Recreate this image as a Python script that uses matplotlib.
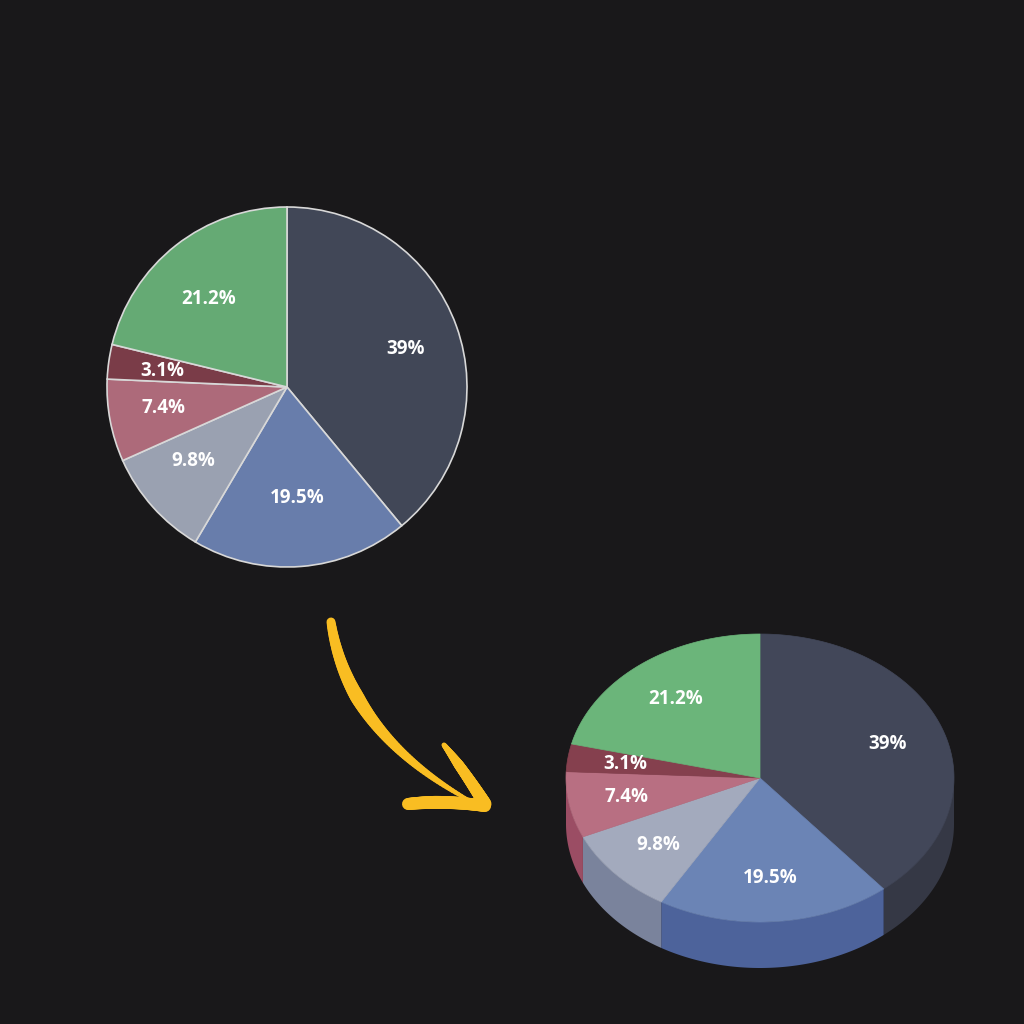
import numpy as np
import matplotlib
matplotlib.use("Agg")
import matplotlib.pyplot as plt
from matplotlib.patches import Polygon
from matplotlib.collections import LineCollection

# slice data, clockwise from 12 o'clock
values = [39, 19.5, 9.8, 7.4, 3.1, 21.2]
labels = ["39%", "19.5%", "9.8%", "7.4%", "3.1%", "21.2%"]
flat_colors = ["#414757", "#687dab", "#9aa1b1", "#ad6a7a", "#7a3c48", "#65aa74"]
top_colors = ["#424759", "#6b84b5", "#a3aabd", "#b86f82", "#85404e", "#6bb57a"]
side_colors = ["#353845", "#4d639b", "#7a839c", "#9b4d64", "#6e3340", "#4f8a5b"]

bg = "#19181a"
W = 1024

fig = plt.figure(figsize=(10.24, 10.24), dpi=100, facecolor=bg)
ax = fig.add_axes([0, 0, 1, 1])
ax.set_facecolor(bg)

font = dict(color="white", fontsize=13.5, fontweight="bold", family=["Open Sans", "DejaVu Sans"])

# flat pie
fx, fy, fr = 287, W - 387, 180
wedges, _ = ax.pie(values, colors=flat_colors, startangle=90, counterclock=False,
                   center=(fx, fy), radius=fr, frame=True,
                   wedgeprops=dict(edgecolor="#d8d8d8", linewidth=1.2))
for w, lab in zip(wedges, labels):
    mid = np.radians((w.theta1 + w.theta2) / 2)
    ax.text(fx + 0.7 * fr * np.cos(mid), fy + 0.62 * fr * np.sin(mid), lab,
            ha="center", va="center", **font)

ax.set_xlim(0, W)
ax.set_ylim(0, W)
ax.set_aspect("equal")
ax.axis("off")

# 3d pie
cx, cy, rx, ry, depth = 760, W - 778, 194, 144, 46
bounds = 90 - 360 * np.concatenate([[0], np.cumsum(values)]) / sum(values)


def arc(a0, a1, n=120):
    t = np.radians(np.linspace(a0, a1, n))
    return np.column_stack([cx + rx * np.cos(t), cy + ry * np.sin(t)])


# side walls on the front half (180..360 deg)
for i in range(len(values)):
    a1, a0 = bounds[i], bounds[i + 1]  # a0 < a1
    for k in (-1, 0):
        lo = max(a0, 180 + 360 * k)
        hi = min(a1, 360 + 360 * k)
        if hi <= lo:
            continue
        top = arc(lo, hi)
        bot = top[::-1] - [0, depth]
        ax.add_patch(Polygon(np.vstack([top, bot]), closed=True,
                             facecolor=side_colors[i], edgecolor="none"))

# top face
for i in range(len(values)):
    a1, a0 = bounds[i], bounds[i + 1]
    pts = np.vstack([[cx, cy], arc(a0, a1)])
    ax.add_patch(Polygon(pts, closed=True, facecolor=top_colors[i],
                         edgecolor=top_colors[i], linewidth=0.5))
    mid = np.radians((a0 + a1) / 2)
    ax.text(cx + 0.7 * rx * np.cos(mid), cy + 0.7 * ry * np.sin(mid), labels[i],
            ha="center", va="center", **font)


# hand-drawn yellow arrow
def stroke(p0, p1, p2, w0, wm, w1, n=80):
    t = np.linspace(0, 1, n)[:, None]
    pts = (1 - t) ** 2 * np.array(p0) + 2 * (1 - t) * t * np.array(p1) + t ** 2 * np.array(p2)
    pts[:, 1] = W - pts[:, 1]
    tt = t[:-1, 0]
    w = np.where(tt < 0.35, w0 + (wm - w0) * tt / 0.35, wm + (w1 - wm) * (tt - 0.35) / 0.65)
    segs = np.stack([pts[:-1], pts[1:]], axis=1)
    ax.add_collection(LineCollection(segs, linewidths=w * 0.72, colors="#f9bd22",
                                     capstyle="round", joinstyle="round"))


stroke((331, 622), (348, 735), (474, 803), 9, 14, 3)
stroke((444, 745), (465, 772), (485, 804), 5, 10, 13)
stroke((408, 804), (445, 800), (485, 806), 12, 13, 12)

fig.savefig("out.png", dpi=100, facecolor=bg)
